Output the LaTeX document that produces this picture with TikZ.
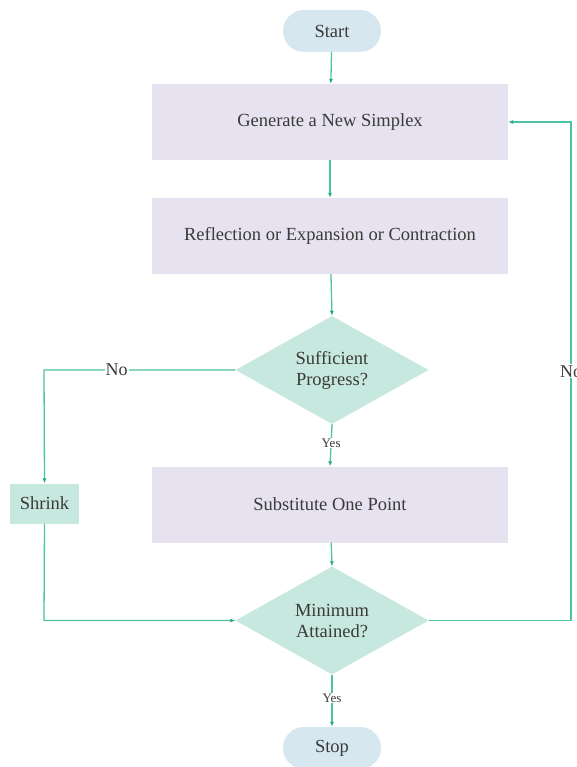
\documentclass[tikz,border=0pt]{standalone}
\usepackage{fontspec}
\setmainfont{Liberation Serif}
\usetikzlibrary{shapes.geometric,shapes.misc,arrows.meta}
\definecolor{pillblue}{HTML}{D6E7F0}
\definecolor{lav}{HTML}{E7E2F0}
\definecolor{mint}{HTML}{C7E8DF}
\definecolor{linec}{HTML}{4EC3A3}
\definecolor{tipc}{HTML}{1FA983}
\definecolor{txt}{HTML}{3A3A3A}
\tikzset{
  every node/.style={text=txt, font=\fontsize{18.5}{21}\selectfont},
  pill/.style={rounded rectangle, fill=pillblue, minimum width=98pt, minimum height=42pt, inner sep=0pt},
  procbox/.style={rectangle, fill=lav, minimum width=356pt, minimum height=76pt, inner sep=0pt},
  decision/.style={diamond, fill=mint, minimum width=193pt, minimum height=108pt, inner sep=0pt, aspect=1.8, align=center},
  shrinkbox/.style={rectangle, fill=mint, minimum width=69pt, minimum height=40pt, inner sep=0pt},
  conn/.style={draw=linec, line width=1.3pt, -{Latex[length=5pt,width=4pt,color=tipc]}},
  lbl/.style={fill=white, inner sep=1pt, font=\fontsize{18}{20}\selectfont},
  smalllbl/.style={fill=white, inner sep=1pt, font=\fontsize{13}{15}\selectfont}
}
\begin{document}
\begin{tikzpicture}[x=1pt,y=-1pt]
\useasboundingbox[fill=white] (0,0) rectangle (577,767);
\node[pill] (start) at (332,31) {Start};
\node[procbox] (gen) at (330,122) {Generate a New Simplex};
\node[procbox] (refl) at (330,236) {Reflection or Expansion or Contraction};
\node[decision] (suff) at (332,370) {Sufficient\\Progress?};
\node[procbox] (subst) at (330,504.5) {Substitute One Point};
\node[decision] (mini) at (332,620.5) {Minimum\\Attained?};
\node[pill] (stop) at (332,748) {Stop};
\node[shrinkbox] (shrink) at (44.5,503.5) {Shrink};
\coordinate (nl) at (44,370);
\coordinate (sb) at (44,620.5);
\coordinate (rb) at (571,620.5);
\coordinate (rt) at (571,122);

\draw[conn] (start) -- (gen);
\draw[conn] (gen) -- (refl);
\draw[conn] (refl) -- (suff.north);
\draw[conn] (suff.south) -- node[smalllbl, pos=0.45] {Yes} (subst.north);
\draw[conn] (subst) -- (mini.north);
\draw[conn] (mini.south) -- node[smalllbl, pos=0.45] {Yes} (stop.north);
\draw[conn] (suff.west) -- node[lbl, pos=0.62] {No} (nl) -- (shrink.north);
\draw[conn] (shrink.south) -- (sb) -- (mini.west);
\draw[conn] (mini.east) -- (rb) -- node[lbl, pos=0.5] {No} (rt) -- (gen.east);
\end{tikzpicture}
\end{document}
